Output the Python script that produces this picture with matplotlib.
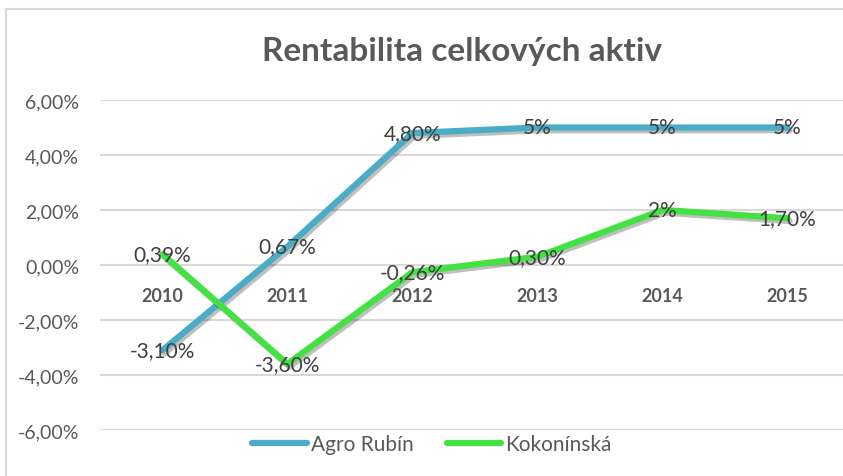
import matplotlib.pyplot as plt
import matplotlib.patheffects as pe
from matplotlib.patches import Rectangle
from matplotlib.lines import Line2D

plt.rcParams['font.family'] = ['Lato', 'DejaVu Sans']

# data
years = ["2010", "2011", "2012", "2013", "2014", "2015"]
agro = [-3.10, 0.67, 4.80, 5.0, 5.0, 5.0]
agro_labels = ["-3,10%", "0,67%", "4,80%", "5%", "5%", "5%"]
koko = [0.39, -3.60, -0.26, 0.30, 2.0, 1.70]
koko_labels = ["0,39%", "-3,60%", "-0,26%", "0,30%", "2%", "1,70%"]
yticks = [-6, -4, -2, 0, 2, 4, 6]

blue = "#4BACC6"
green = "#41E241"
txt = "#595959"

W, H = 843, 477
fig = plt.figure(figsize=(W / 100, H / 100), dpi=100)

# chart frame
fig.patches.append(Rectangle((6 / W, -0.1), 1.2, 1.1 - 10 / H, transform=fig.transFigure,
                             fill=False, edgecolor="#D9D9D9", linewidth=1.5))

ax = fig.add_axes([100 / W, 1 - 431 / H, 750 / W, 330 / H])
x = list(range(len(years)))

shadow = [pe.SimpleLineShadow(offset=(1.5, -2), shadow_color="black", alpha=0.25), pe.Normal()]
ax.plot(x, agro, color=blue, lw=4.5, solid_capstyle="round", path_effects=shadow, zorder=3)
ax.plot(x, koko, color=green, lw=4.5, solid_capstyle="round", path_effects=shadow, zorder=3)

for xi, v, s in zip(x, agro, agro_labels):
    ax.text(xi, v, s, ha="center", va="center", fontsize=15, color="#404040", zorder=4)
for xi, v, s in zip(x, koko, koko_labels):
    ax.text(xi, v, s, ha="center", va="center", fontsize=15, color="#404040", zorder=4)

# category labels sit just under the zero line
for xi, yr in zip(x, years):
    ax.text(xi, -1.1, yr, ha="center", va="center", fontsize=13, fontweight="bold", color=txt)

ax.set_xlim(-0.5, 5.5)
ax.set_ylim(-6, 6)
ax.set_yticks(yticks)
ax.set_yticklabels([f"{t:.2f}".replace(".", ",") + "%" for t in yticks], fontsize=14, color=txt)
ax.set_xticks([])
ax.tick_params(axis="y", length=0, pad=15)
ax.grid(axis="y", color="#D9D9D9", linewidth=1.5)
ax.set_axisbelow(True)
for sp in ax.spines.values():
    sp.set_visible(False)

fig.text(462 / W, 1 - 52 / H, "Rentabilita celkových aktiv", ha="center", va="center",
         fontsize=24, fontweight="bold", color=txt)

handles = [Line2D([], [], color=blue, lw=4.5, solid_capstyle="round"),
           Line2D([], [], color=green, lw=4.5, solid_capstyle="round")]
fig.legend(handles, ["Agro Rubín", "Kokonínská"], loc="center", bbox_to_anchor=(432 / W, 1 - 445 / H),
           ncol=2, frameon=False, fontsize=15, labelcolor=txt, handlelength=2.6,
           handletextpad=0.2, columnspacing=1.6)

fig.savefig("out.png", dpi=100)
